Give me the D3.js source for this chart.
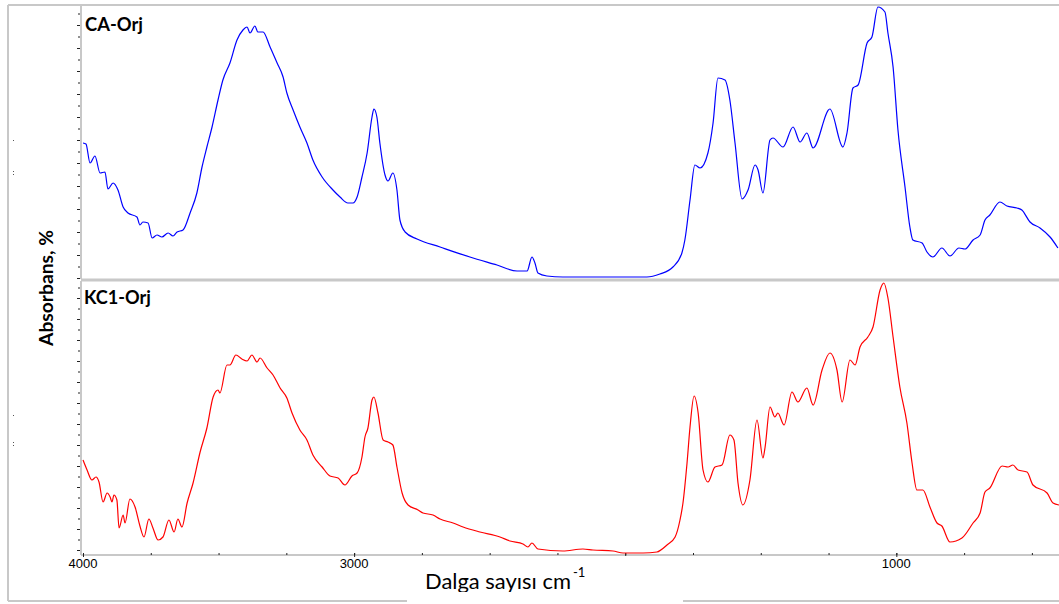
<!DOCTYPE html>
<html>
<head>
<meta charset="utf-8">
<script src="https://cdn.jsdelivr.net/npm/d3@7"></script>
<style>
  body { margin: 0; background: #fff; }
  svg { display: block; }
</style>
</head>
<body>
<div id="chart"></div>
<script>
// CA-Orj spectrum (wavenumber cm-1, absorbance)
var caWave = [4000, 3989, 3974, 3956, 3937, 3919, 3908, 3889, 3871, 3852, 3834, 3801, 3790, 3779, 3760, 3745, 3727, 3709, 3686, 3668, 3653, 3631,
    3605, 3580, 3561, 3543, 3524, 3502, 3484, 3458, 3432, 3410, 3395, 3384, 3366, 3355, 3336, 3310, 3284, 3262, 3248, 3225, 3200, 3174, 3152,
    3118, 3078, 3052, 3023, 3004, 2989, 2971, 2952, 2934, 2927, 2916, 2905, 2886, 2875, 2857, 2842, 2831, 2812, 2768, 2683, 2573, 2473, 2399,
    2362, 2344, 2333, 2322, 2289, 2230, 2167, 1982, 1920, 1872, 1824, 1791, 1780, 1761, 1743, 1724, 1695, 1676, 1658, 1632, 1614, 1595, 1569,
    1547, 1521, 1510, 1492, 1466, 1455, 1418, 1381, 1355, 1330, 1307, 1245, 1197, 1182, 1160, 1141, 1108, 1090, 1068, 1042, 1031, 1012, 994,
    968, 950, 939, 905, 887, 865, 832, 802, 769, 747, 717, 691, 673, 655, 618, 592, 555, 537, 507, 470, 433, 404];
var caAbs = [1.34, 1.33, 1.14, 1.21, 1.04, 1.05, 0.88, 0.94, 0.87, 0.70, 0.64, 0.60, 0.52, 0.55, 0.54, 0.39, 0.42, 0.40, 0.44, 0.41, 0.45, 0.47,
    0.64, 0.84, 1.10, 1.30, 1.50, 1.77, 1.97, 2.14, 2.37, 2.47, 2.50, 2.44, 2.51, 2.45, 2.45, 2.30, 2.14, 2.00, 1.84, 1.67, 1.50, 1.34, 1.17,
    1.00, 0.87, 0.80, 0.74, 0.74, 0.80, 1.00, 1.24, 1.60, 1.68, 1.60, 1.34, 1.02, 0.96, 1.04, 0.87, 0.57, 0.45, 0.38, 0.30, 0.20, 0.12, 0.06,
    0.06, 0.20, 0.14, 0.04, 0.01, 0.00, 0.00, 0.00, 0.00, 0.03, 0.10, 0.24, 0.37, 0.77, 1.12, 1.09, 1.24, 1.54, 1.99, 1.97, 1.77, 1.34, 0.78,
    0.87, 1.12, 1.07, 0.84, 1.37, 1.39, 1.30, 1.50, 1.35, 1.44, 1.29, 1.68, 1.30, 1.44, 1.89, 1.92, 2.34, 2.40, 2.70, 2.65, 2.44, 2.10, 1.47,
    0.90, 0.50, 0.37, 0.34, 0.25, 0.20, 0.29, 0.21, 0.29, 0.28, 0.37, 0.42, 0.57, 0.62, 0.75, 0.71, 0.69, 0.67, 0.55, 0.49, 0.40, 0.29];

// KC1-Orj spectrum
var kcWave = [4000, 3985, 3967, 3952, 3941, 3926, 3911, 3900, 3893, 3886, 3875, 3867, 3852, 3845, 3827, 3808, 3790, 3775, 3757, 3742, 3723, 3705,
    3683, 3664, 3650, 3635, 3616, 3594, 3568, 3543, 3520, 3502, 3495, 3469, 3458, 3436, 3414, 3395, 3377, 3358, 3347, 3321, 3299, 3273, 3248,
    3229, 3200, 3174, 3152, 3118, 3089, 3059, 3034, 3008, 2989, 2971, 2960, 2949, 2934, 2927, 2912, 2893, 2875, 2857, 2842, 2823, 2801, 2764,
    2746, 2709, 2683, 2635, 2598, 2536, 2462, 2425, 2377, 2359, 2344, 2322, 2230, 2156, 2119, 2045, 2008, 1934, 1883, 1846, 1816, 1798, 1787,
    1772, 1761, 1746, 1731, 1713, 1695, 1669, 1643, 1614, 1599, 1584, 1566, 1540, 1514, 1492, 1484, 1466, 1448, 1437, 1414, 1385, 1363, 1330,
    1307, 1274, 1245, 1219, 1200, 1171, 1152, 1134, 1105, 1086, 1060, 1046, 1031, 1012, 987, 961, 942, 924, 902, 876, 850, 832, 802, 758, 717,
    691, 673, 655, 610, 588, 570, 551, 518, 496, 444, 422, 400];
var kcAbs = [0.93, 0.83, 0.73, 0.76, 0.71, 0.51, 0.60, 0.56, 0.51, 0.58, 0.53, 0.25, 0.38, 0.30, 0.54, 0.46, 0.27, 0.16, 0.34, 0.25, 0.13, 0.16,
    0.33, 0.21, 0.34, 0.26, 0.50, 0.70, 1.01, 1.25, 1.56, 1.63, 1.60, 1.88, 1.88, 1.98, 1.94, 1.92, 1.98, 1.91, 1.95, 1.85, 1.78, 1.65, 1.55,
    1.40, 1.23, 1.13, 0.98, 0.86, 0.77, 0.75, 0.68, 0.77, 0.80, 0.96, 1.16, 1.25, 1.53, 1.56, 1.40, 1.13, 1.11, 1.08, 0.86, 0.60, 0.48, 0.43,
    0.40, 0.38, 0.34, 0.30, 0.26, 0.21, 0.16, 0.12, 0.09, 0.06, 0.10, 0.04, 0.02, 0.04, 0.03, 0.02, 0.00, 0.00, 0.01, 0.08, 0.16, 0.33, 0.50,
    0.90, 1.26, 1.57, 1.40, 0.83, 0.71, 0.86, 0.88, 1.18, 1.13, 0.70, 0.48, 0.73, 1.33, 0.95, 1.06, 1.46, 1.36, 1.40, 1.28, 1.61, 1.51, 1.65,
    1.48, 1.83, 2.00, 1.83, 1.51, 1.93, 1.88, 2.06, 2.16, 2.26, 2.63, 2.70, 2.55, 2.16, 1.66, 1.30, 0.90, 0.63, 0.63, 0.46, 0.30, 0.27, 0.11,
    0.15, 0.30, 0.40, 0.61, 0.65, 0.87, 0.86, 0.88, 0.83, 0.81, 0.68, 0.60, 0.50, 0.48];

var xTickValues = [4000, 3000, 2000, 1000];
var panelNames = ["CA-Orj", "KC1-Orj"];

var W = 1059, H = 604;
var frame = "#c8c8c8";

var svg = d3.select("#chart").append("svg")
    .attr("width", W)
    .attr("height", H);

var x = d3.scaleLinear().domain([4000, 400]).range([83, 1059]);
var yTop = d3.scaleLinear().domain([0, 2.7]).range([277, 7]);
var yBot = d3.scaleLinear().domain([0, 2.7]).range([553, 283]);

// outer frame
svg.append("line").attr("x1", 8).attr("x2", W).attr("y1", 5).attr("y2", 5)
    .attr("stroke", frame).attr("stroke-width", 2);
svg.append("line").attr("x1", 8).attr("x2", 8).attr("y1", 5).attr("y2", 601)
    .attr("stroke", frame).attr("stroke-width", 2);
svg.append("line").attr("x1", 8).attr("x2", W).attr("y1", 601).attr("y2", 601)
    .attr("stroke", frame).attr("stroke-width", 2);

// panel separator and axis lines
svg.append("line").attr("x1", 81).attr("x2", W).attr("y1", 280).attr("y2", 280)
    .attr("stroke", frame).attr("stroke-width", 3);
svg.append("line").attr("x1", 81).attr("x2", W).attr("y1", 555).attr("y2", 555)
    .attr("stroke", frame).attr("stroke-width", 2);
svg.append("line").attr("x1", 81).attr("x2", 81).attr("y1", 5).attr("y2", 279)
    .attr("stroke", frame).attr("stroke-width", 2);
svg.append("line").attr("x1", 81).attr("x2", 81).attr("y1", 281).attr("y2", 555)
    .attr("stroke", frame).attr("stroke-width", 2);

// y ticks (no labels)
function yTicks(scale, start, step) {
    var major = d3.range(start, 2.62, step);
    var minor = major.map(function (d) { return d + step / 2; }).filter(function (d) { return d < 2.68; });
    var g = svg.append("g").attr("transform", "translate(80,0)");
    g.append("g").call(d3.axisLeft(scale).tickValues(major).tickSize(3).tickFormat(""));
    g.append("g").call(d3.axisLeft(scale).tickValues(minor).tickSize(2).tickFormat(""));
    g.selectAll(".domain").remove();
    g.selectAll(".tick line").attr("stroke", "#222");
}
yTicks(yTop, -0.01, 0.23);
yTicks(yBot, 0.03, 0.21);

// x ticks
var xg = svg.append("g").attr("transform", "translate(0,553)");
xg.append("g").call(d3.axisBottom(x).tickValues(d3.range(4000, 399, -250)).tickSize(2).tickFormat(""));
xg.append("g").call(d3.axisBottom(x).tickValues(xTickValues).tickSize(4).tickFormat(""));
xg.selectAll(".domain").remove();
xg.selectAll(".tick line").attr("stroke", "#222");

svg.selectAll("text.xlab")
    .data(xTickValues)
    .enter().append("text")
    .attr("class", "xlab")
    .attr("x", function (d) { return x(d); })
    .attr("y", 568)
    .attr("text-anchor", "middle")
    .style("font-family", "'Liberation Sans', Arial, sans-serif")
    .style("font-size", "13px")
    .text(function (d) { return d; });

// spectra
function drawLine(wave, abs, yScale, color) {
    var pts = wave.map(function (w, i) { return [w, abs[i]]; });
    svg.append("path")
        .datum(pts)
        .attr("fill", "none")
        .attr("stroke", color)
        .attr("stroke-width", 1.2)
        .attr("stroke-linejoin", "round")
        .attr("d", d3.line()
            .curve(d3.curveMonotoneX)
            .x(function (d) { return x(d[0]); })
            .y(function (d) { return yScale(d[1]); }));
}
drawLine(caWave, caAbs, yTop, "#0000ff");
drawLine(kcWave, kcAbs, yBot, "#ff0000");

// fit text to a measured width
function fitText(sel, width) {
    var len = sel.node().getComputedTextLength();
    var fs = parseFloat(sel.style("font-size"));
    sel.style("font-size", (fs * width / len) + "px");
}

var font = "Lato, 'Open Sans', sans-serif";
var lab1 = svg.append("text").attr("x", 85).attr("y", 31)
    .style("font-family", font).style("font-weight", "bold").style("font-size", "17px")
    .text(panelNames[0]);
fitText(lab1, 58);
var lab2 = svg.append("text").attr("x", 84).attr("y", 304)
    .style("font-family", font).style("font-weight", "bold").style("font-size", "17px")
    .text(panelNames[1]);
fitText(lab2, 67);

var ytitle = svg.append("text")
    .attr("transform", "translate(53,288) rotate(-90)")
    .attr("text-anchor", "middle")
    .style("font-family", font).style("font-weight", "bold").style("font-size", "17px")
    .text("Absorbans, %");
fitText(ytitle, 116);

// stray tick label dots at far left
var dots = [[13, 140], [13, 171], [13, 174], [13, 415], [13, 442], [13, 445]];
svg.selectAll("rect.dot").data(dots).enter().append("rect")
    .attr("x", function (d) { return d[0]; }).attr("y", function (d) { return d[1]; })
    .attr("width", 1).attr("height", 1).attr("fill", "#555");

// x title box
svg.append("rect").attr("x", 407).attr("y", 556).attr("width", 276).attr("height", 46)
    .attr("fill", "#fff");
svg.append("clipPath").attr("id", "titleClip")
    .append("rect").attr("x", 407).attr("y", 556).attr("width", 276).attr("height", 36);
var xtitle = svg.append("text")
    .attr("x", 425).attr("y", 589)
    .attr("clip-path", "url(#titleClip)")
    .style("font-family", font).style("font-size", "20px")
    .text("Dalga sayısı cm");
fitText(xtitle, 146);
svg.append("text")
    .attr("x", 573).attr("y", 577)
    .style("font-family", font).style("font-size", "13px")
    .text("-1");
</script>
</body>
</html>
